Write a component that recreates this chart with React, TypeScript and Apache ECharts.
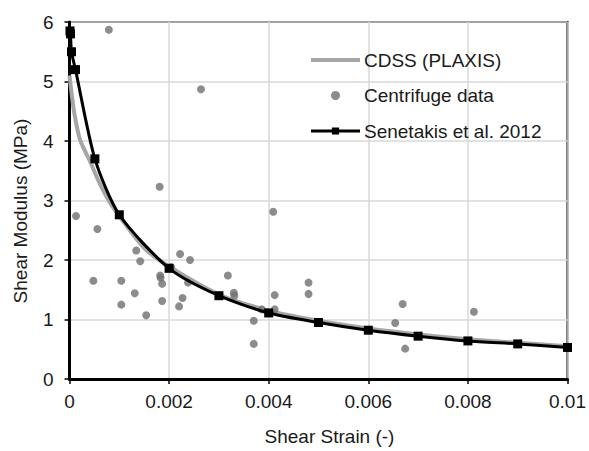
import React, { useEffect, useRef } from "react";
import * as echarts from "echarts";

const cdssX = [0, 0.00005, 0.0001, 0.0002, 0.0003, 0.0004, 0.0006, 0.0008, 0.001, 0.0015, 0.002, 0.003, 0.004, 0.005, 0.006, 0.007, 0.008, 0.009, 0.01];
const cdssY = [5.1, 4.75, 4.45, 4.05, 3.85, 3.68, 3.3, 2.98, 2.74, 2.2, 1.89, 1.42, 1.15, 0.98, 0.85, 0.75, 0.67, 0.61, 0.55];

const centX = [0.00079, 0.00264, 0.00181, 0.00409, 0.00013, 0.00056, 0.00134, 0.00142, 0.00222, 0.00242, 0.00048, 0.00104, 0.00182, 0.00183, 0.00186, 0.00131, 0.00238, 0.00204, 0.00104, 0.00186, 0.00227, 0.0022, 0.00154, 0.00318, 0.0033, 0.00331, 0.00386, 0.00412, 0.00412, 0.0037, 0.0037, 0.0048, 0.0048, 0.00669, 0.00654, 0.00674, 0.00812];
const centY = [5.87, 4.87, 3.23, 2.81, 2.74, 2.52, 2.16, 1.98, 2.1, 2.0, 1.65, 1.65, 1.74, 1.7, 1.6, 1.44, 1.62, 1.88, 1.25, 1.31, 1.36, 1.22, 1.07, 1.74, 1.45, 1.4, 1.17, 1.41, 1.17, 0.98, 0.59, 1.62, 1.43, 1.26, 0.94, 0.51, 1.13];

const senX = [0.00001, 0.00002, 0.00004, 0.00012, 0.00051, 0.001, 0.002, 0.003, 0.004, 0.005, 0.006, 0.007, 0.008, 0.009, 0.01];
const senY = [5.85, 5.8, 5.5, 5.2, 3.7, 2.76, 1.86, 1.4, 1.11, 0.95, 0.82, 0.72, 0.64, 0.59, 0.53];

const xTicks = [0, 0.002, 0.004, 0.006, 0.008, 0.01];
const yTitle = "Shear Modulus (MPa)";

const FONT = "Liberation Sans, Arial, sans-serif";
const FS = 19;
const TXT = "#1a1a1a";

export default function App() {
  const ref = useRef<HTMLDivElement>(null);
  useEffect(() => {
    const chart = echarts.init(ref.current!, undefined, { renderer: "svg" });
    const zip = (xs: number[], ys: number[]) => xs.map((x, i) => [x, ys[i]]);
    chart.setOption({
      animation: false,
      textStyle: { fontFamily: FONT },
      grid: { left: 69.5, right: 20, top: 22, bottom: 69, show: true, borderColor: "#000", borderWidth: 2 },
      graphic: [
        {
          type: "text",
          x: 20,
          y: 211,
          rotation: Math.PI / 2,
          style: {
            text: yTitle,
            font: `${FS}px ${FONT}`,
            fill: TXT,
            align: "center",
            verticalAlign: "middle",
            textAlign: "center",
            textVerticalAlign: "middle",
          },
        },
      ],
      legend: {
        orient: "vertical",
        left: 304,
        top: 45.5,
        itemWidth: 49,
        itemHeight: 9,
        itemGap: 16.5,
        textStyle: { fontSize: FS, color: TXT, fontFamily: FONT, lineHeight: 19, padding: [0, 0, 0, -1] },
        data: [
          { name: "CDSS (PLAXIS)", itemStyle: { color: "rgba(0,0,0,0)", borderWidth: 0 }, lineStyle: { color: "#a6a6a6", width: 4 } },
          { name: "Centrifuge data" },
          { name: "Senetakis et al. 2012", lineStyle: { color: "#000", width: 3 } },
        ],
      },
      xAxis: {
        type: "value",
        min: 0,
        max: 0.01,
        interval: 0.002,
        name: "Shear Strain (-)",
        nameLocation: "middle",
        nameGap: 48,
        nameTextStyle: { fontSize: FS, color: TXT, padding: [0, 0, 0, 22] },
        axisLine: { lineStyle: { color: "#000", width: 3 } },
        axisTick: { show: true, length: 5, lineStyle: { color: "#000", width: 1.5 } },
        axisLabel: {
          fontSize: FS,
          color: TXT,
          margin: 13,
          formatter: (v: number) => {
            const m = xTicks.find((t) => Math.abs(t - v) < 1e-9);
            return m === undefined ? "" : String(Number(v.toFixed(3)));
          },
        },
        splitLine: { show: true, lineStyle: { color: "#d9d9d9", width: 1.5 } },
      },
      yAxis: {
        type: "value",
        min: 0,
        max: 6,
        interval: 1,
        axisLine: { show: true, lineStyle: { color: "#000", width: 3 } },
        axisTick: { show: true, length: 5, lineStyle: { color: "#000", width: 1.5 } },
        axisLabel: { fontSize: FS, color: TXT, margin: 16 },
        splitLine: { show: true, lineStyle: { color: "#d9d9d9", width: 1.5 } },
      },
      series: [
        {
          name: "CDSS (PLAXIS)",
          type: "line",
          data: zip(cdssX, cdssY),
          showSymbol: false,
          symbol: "none",
          smooth: 0.3,
          lineStyle: { color: "#a6a6a6", width: 4 },
          itemStyle: { color: "#a6a6a6" },
          z: 2,
        },
        {
          name: "Centrifuge data",
          type: "scatter",
          data: zip(centX, centY),
          symbol: "circle",
          symbolSize: 8,
          itemStyle: { color: "#6f6f6f" },
          z: 3,
        },
        {
          name: "Senetakis et al. 2012",
          type: "line",
          data: zip(senX, senY),
          symbol: "rect",
          symbolSize: 9,
          smooth: 0.25,
          lineStyle: { color: "#000", width: 3 },
          itemStyle: { color: "#000" },
          z: 4,
        },
      ],
    });
    return () => chart.dispose();
  }, []);
  return <div ref={ref} style={{ width: 589, height: 451, position: "absolute", left: 0, top: 0 }} />;
}
